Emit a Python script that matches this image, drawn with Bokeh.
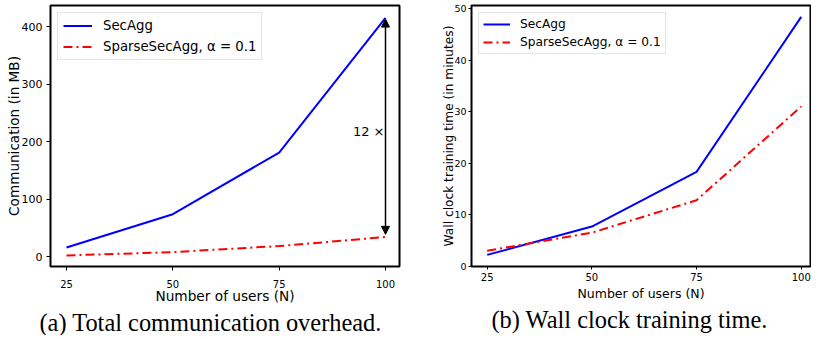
from bokeh.plotting import figure
from bokeh.layouts import row
from bokeh.models import Range1d, FixedTicker, Legend, LegendItem, Arrow, NormalHead, Label
from bokeh.embed import file_html
from bokeh.resources import INLINE

# ---- data ----
users = [25, 50, 75, 100]
comm_secagg = [16, 74, 181, 415]
comm_sparse = [2.3, 8.1, 18.6, 34.3]
time_secagg = [2.2, 7.7, 18.3, 48.4]
time_sparse = [3.0, 6.5, 12.8, 31.0]
comm_yticks = [0, 100, 200, 300, 400]
time_yticks = [0, 10, 20, 30, 40, 50]
arrow_top = 413
arrow_bottom = 39
ratio_label = "12 ×"
ratio_y = 217
series_names = ["SecAgg", "SparseSecAgg, α = 0.1"]
captions = ["(a) Total communication overhead.", "(b) Wall clock training time."]

FONT = "DejaVu Sans"
BLUE = "#0000ff"
RED = "#ff0000"
DASH = "9 4 2 4"


def style(p, xt, yt, xlab, ylab, xtick_fs, ytick_fs, xlab_fs, ylab_fs, tick_len, standoff_x, standoff_y, lab_so_x, lab_so_y):
    p.grid.visible = False
    p.outline_line_color = "black"
    p.outline_line_width = 2
    p.outline_line_alpha = 1
    p.xaxis.ticker = FixedTicker(ticks=xt)
    p.yaxis.ticker = FixedTicker(ticks=yt)
    for ax in (p.xaxis, p.yaxis):
        ax.axis_line_color = None
        ax.major_tick_line_color = "black"
        ax.major_tick_out = tick_len
        ax.major_tick_in = 0
        ax.minor_tick_line_color = None
        ax.major_label_text_color = "black"
        ax.major_label_text_font = FONT
        ax.axis_label_text_font = FONT
        ax.axis_label_text_font_style = "normal"
        ax.axis_label_text_color = "black"
    p.xaxis.axis_label = xlab
    p.yaxis.axis_label = ylab
    p.xaxis.major_label_text_font_size = xtick_fs
    p.yaxis.major_label_text_font_size = ytick_fs
    p.xaxis.axis_label_text_font_size = xlab_fs
    p.yaxis.axis_label_text_font_size = ylab_fs
    p.xaxis.major_label_standoff = standoff_x
    p.yaxis.major_label_standoff = standoff_y
    p.xaxis.axis_label_standoff = lab_so_x
    p.yaxis.axis_label_standoff = lab_so_y
    p.title.text_font = "Liberation Serif"
    p.title.text_font_style = "normal"
    p.title.text_font_size = "24.4px"
    p.title.text_color = "black"
    p.title.align = "left"
    p.title.standoff = 0


# ---- left panel ----
p1 = figure(width=404, height=339, x_range=Range1d(21.24, 103.29), y_range=Range1d(-16.9, 436.6),
            output_backend="svg", toolbar_location=None,
            title=captions[0], title_location="below",
            min_border_left=50, min_border_right=5, min_border_top=7, min_border_bottom=0)
style(p1, users, comm_yticks, "Number of users (N)", "Communication (in MB)",
      "10px", "11px", "13.7px", "13.6px", 4, 9, 4, -3, -3)
p1.title.offset = -11
r1a = p1.line(users, comm_secagg, line_color=BLUE, line_width=2)
r1b = p1.line(users, comm_sparse, line_color=RED, line_width=2, line_dash=DASH)
p1.add_layout(Arrow(start=NormalHead(size=8, fill_color="black", line_color="black"),
                    end=NormalHead(size=8, fill_color="black", line_color="black"),
                    x_start=users[-1], y_start=arrow_bottom, x_end=users[-1], y_end=arrow_top,
                    line_width=1.5, line_color="black"))
p1.add_layout(Label(x=users[-1], y=ratio_y, x_offset=-1, text=ratio_label, text_align="right",
                    text_baseline="middle", text_font=FONT, text_font_size="13px", text_color="black"))
leg1 = Legend(items=[LegendItem(label=series_names[0], renderers=[r1a]),
                     LegendItem(label=series_names[1], renderers=[r1b])],
              location="top_left", margin=7, padding=5, spacing=6,
              glyph_width=29, glyph_height=15, label_height=15, label_standoff=11,
              label_text_font=FONT, label_text_font_size="13.3px", label_text_color="black",
              border_line_color="#cccccc", border_line_width=1, background_fill_alpha=0.8)
p1.add_layout(leg1)

# ---- right panel ----
p2 = figure(width=407, height=339, x_range=Range1d(21.25, 102.22), y_range=Range1d(-0.06, 50.6),
            output_backend="svg", toolbar_location=None,
            title=captions[1], title_location="below",
            min_border_left=67, min_border_right=1, min_border_top=9, min_border_bottom=0)
style(p2, users, time_yticks, "Number of users (N)", "Wall clock training time (in minutes)",
      "10px", "9.5px", "12.5px", "12.2px", 3, 3, 2, 2, -5)
p2.title.offset = 20
r2a = p2.line(users, time_secagg, line_color=BLUE, line_width=2)
r2b = p2.line(users, time_sparse, line_color=RED, line_width=2, line_dash=DASH)
leg2 = Legend(items=[LegendItem(label=series_names[0], renderers=[r2a]),
                     LegendItem(label=series_names[1], renderers=[r2b])],
              location="top_left", margin=7, padding=4, spacing=4,
              glyph_width=27, glyph_height=14, label_height=14, label_standoff=10,
              label_text_font=FONT, label_text_font_size="12.2px", label_text_color="black",
              border_line_color="#cccccc", border_line_width=1, background_fill_alpha=0.8)
p2.add_layout(leg2)

layout = row(p1, p2, margin=(-4, 0, -4, 0))
open("out.html", "w").write(file_html(layout, INLINE))
